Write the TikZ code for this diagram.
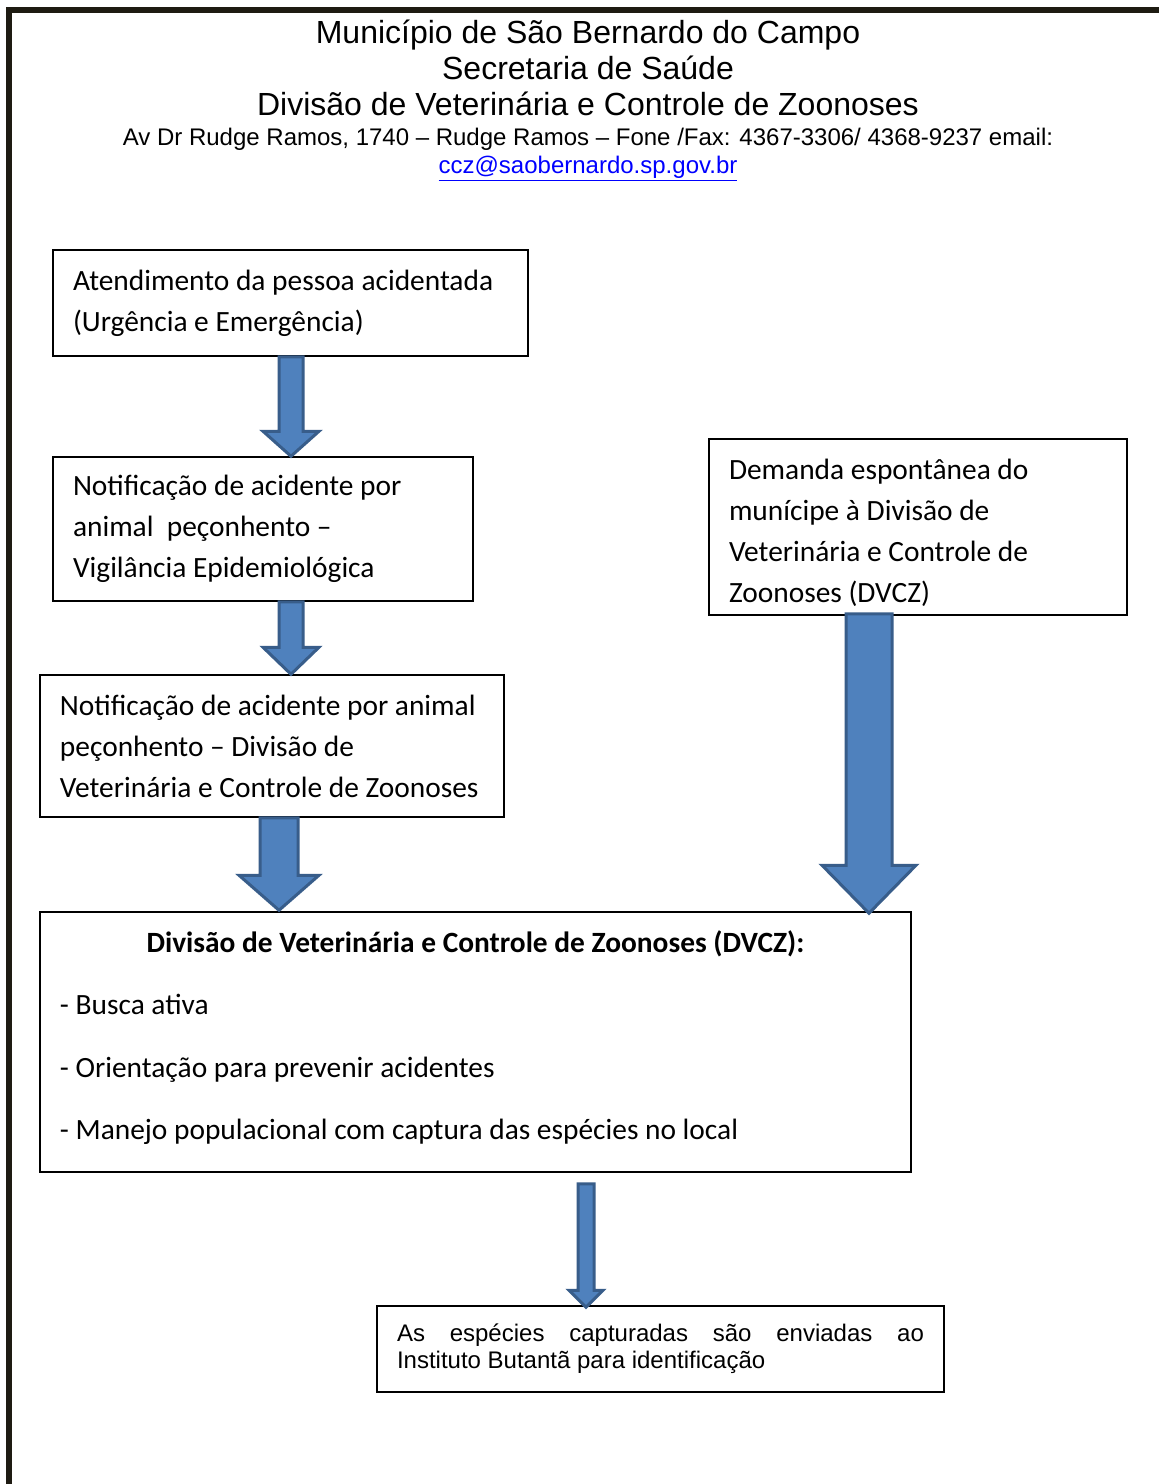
\documentclass[tikz,border=0pt]{standalone}
\usepackage{fontspec}
\setmainfont{Carlito}
\newfontfamily\arialf{Liberation Sans}
\usetikzlibrary{calc}
\definecolor{framecol}{RGB}{30,27,18}
\definecolor{arrfill}{RGB}{79,129,189}
\definecolor{arrline}{RGB}{56,93,138}
\definecolor{linkblue}{RGB}{0,0,255}
\tikzset{
  box/.style={draw=black, line width=0.75pt, inner xsep=10pt, inner ysep=0pt, align=left,
    font=\fontsize{14.7}{20.5}\selectfont, anchor=center,
    execute at begin node={\spaceskip=0pt\xspaceskip=0pt\hyphenpenalty=10000\relax}},
  head/.style={font=\arialf\fontsize{16}{18}\selectfont, anchor=base},
  subhead/.style={font=\arialf\fontsize{12}{14}\selectfont, anchor=base},
  blockarr/.style={fill=arrfill, draw=arrline, line width=1.5pt, line join=miter},
}
% #1 start point, #2 tip point, #3 shaft half width, #4 head half width, #5 head length
\newcommand\blockarrow[5]{%
  \draw[blockarr] let \p1=#1, \p2=#2 in
    (\x1-#3,\y1) -- (\x1+#3,\y1) -- (\x1+#3,\y2+#5) -- (\x1+#4,\y2+#5) -- (\x1,\y2)
    -- (\x1-#4,\y2+#5) -- (\x1-#3,\y2+#5) -- cycle;}
\begin{document}
\begin{tikzpicture}[x=0.5pt,y=-0.5pt]
\useasboundingbox (0,0) rectangle (1159,1484);
\fill[white] (0,0) rectangle (1159,1484);
% page frame
\draw[line width=3pt, color=framecol] (9,1484) -- (9,10) -- (1159,10);

% header
\node[head] (h1) at (588,43) {Município de São Bernardo do Campo};
\node[head] (h2) at (588,79) {Secretaria de Saúde};
\node[head] (h3) at (588,115) {Divisão de Veterinária e Controle de Zoonoses};
\node[subhead] (h4) at (588,145) {Av Dr Rudge Ramos, 1740 – Rudge Ramos – Fone /Fax: 4367-3306/ 4368-9237 email:};
\node[subhead, text=linkblue] (h5) at (588,173) {\underline{ccz@saobernardo.sp.gov.br}};

% boxes
\node[box, text width=217.5pt, minimum height=53pt] (b1) at (290.5,303)
  {\mbox{Atendimento da pessoa acidentada}\\(Urgência e Emergência)};
\node[box, text width=190pt, minimum height=72pt] (b2) at (263,529)
  {Notificação de acidente por\\animal\ \ peçonhento –\\Vigilância Epidemiológica};
\node[box, text width=212pt, minimum height=71pt] (b3) at (272,746)
  {\mbox{Notificação de acidente por animal}\\peçonhento – Divisão de\\\mbox{Veterinária e Controle de Zoonoses}};
\node[box, text width=189pt, minimum height=88pt] (b4) at (918,527)
  {\rule{0pt}{16.5pt}Demanda espontânea do\\munícipe à Divisão de\\Veterinária e Controle de\\Zoonoses (DVCZ)};
\node[box, text width=415.5pt, minimum height=130pt] (b5) at (475.5,1042)
  {\makebox[\linewidth][c]{\bfseries Divisão de Veterinária e Controle de Zoonoses (DVCZ):}\\[10.8pt]
   - Busca ativa\\[10.8pt]
   - Orientação para prevenir acidentes\\[10.8pt]
   - Manejo populacional com captura das espécies no local\rule[-7pt]{0pt}{1pt}};
\node[box, text width=263.5pt, minimum height=43pt, font=\arialf\fontsize{12}{13.5}\selectfont] (b6) at (660.5,1349)
  {\makebox[\linewidth][s]{As espécies capturadas são enviadas ao}\\Instituto Butantã para identificação};

% arrow axes
\coordinate (ax1) at (291,0);
\coordinate (ax3) at (279,0);
\coordinate (ax4) at (869,0);
\coordinate (ax5) at (586,0);

\blockarrow{(b1.south -| ax1)}{(b2.north -| ax1)}{6pt}{14pt}{12.5pt}
\blockarrow{(b2.south -| ax1)}{(b3.north -| ax1)}{6pt}{14pt}{13.5pt}
\blockarrow{(b3.south -| ax3)}{($(b5.north -| ax3)+(0,-1)$)}{9.5pt}{20pt}{17.5pt}
\blockarrow{($(b4.south -| ax4)+(0,-2)$)}{($(b5.north -| ax4)+(0,2)$)}{11.5pt}{23.5pt}{24pt}
\blockarrow{($(b5.south -| ax5)+(0,11)$)}{($(b6.north -| ax5)+(0,2)$)}{4pt}{8.5pt}{8.5pt}
\end{tikzpicture}
\end{document}
